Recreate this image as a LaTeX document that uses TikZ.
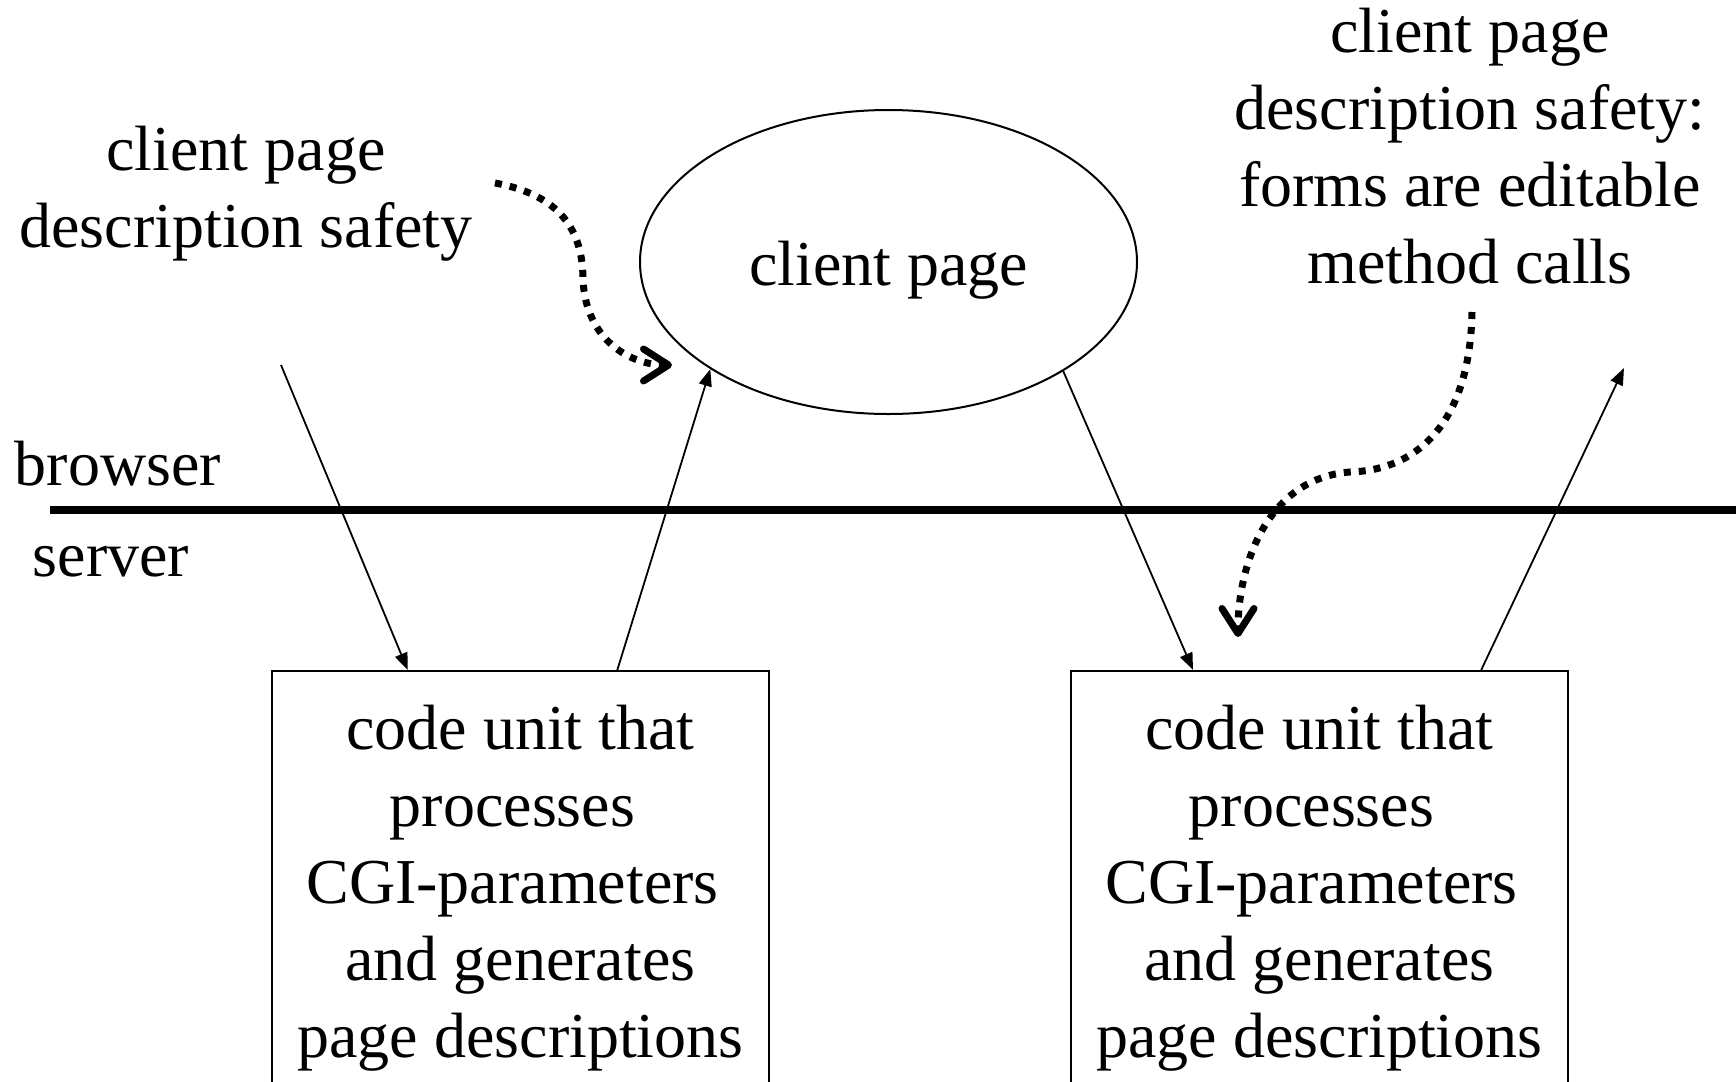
\documentclass[tikz,border=0pt]{standalone}
\usepackage{fontspec}
\setmainfont{Liberation Serif}
\usetikzlibrary{arrows.meta,shapes.geometric,calc}
\begin{document}
\begin{tikzpicture}[x=0.5pt,y=-0.5pt,
  txt/.style={font=\fontsize{32pt}{38.5pt}\selectfont, inner sep=0pt, align=center},
  codebox/.style={txt, draw, line width=1pt, inner xsep=1pt, inner ysep=17pt, minimum width=248.5pt},
  thinarrow/.style={line width=0.9pt, -{Triangle[length=8.5pt,width=6.5pt]}},
  dotarrow/.style={line width=3.5pt, dash pattern=on 3.5pt off 4pt, -{Straight Barb[length=12.5pt,width=16pt,line cap=round,line join=round]}}
]
\useasboundingbox (0,0) rectangle (1736,1082);
\fill[white] (0,0) rectangle (1736,1082);
\clip (0,0) rectangle (1736,1082);

% labels (anchor base = baseline of last line)
\node[txt, anchor=base] (lbl1) at (246,247) {client page\\description safety};
\node[txt, anchor=base] (lbl2) at (1470,283) {client page\\description safety:\\forms are editable\\method calls};
\node[txt, anchor=base] (br) at (118,485) {browser};
\node[txt, anchor=base] (sv) at (111,576) {server};

% client page ellipse
\node[ellipse, draw, line width=1pt, minimum width=248.5pt, minimum height=152pt, inner sep=0pt,
      font=\fontsize{32pt}{38.5pt}\selectfont, text height=28pt, text depth=5pt] (page) at (888.5,262) {client page};

% browser / server line
\coordinate (L0) at (50,510);
\coordinate (L1) at (1736,510);
\draw[line width=3.7pt] (L0) -- (L1);

% code units
\node[codebox, anchor=north] (cu1) at (520.5,670) {code unit that\\processes\rule{0.25em}{0pt}\\CGI-parameters\rule{0.25em}{0pt}\\and generates\\page descriptions};
\node[codebox, anchor=north] (cu2) at (1319.5,670) {code unit that\\processes\rule{0.25em}{0pt}\\CGI-parameters\rule{0.25em}{0pt}\\and generates\\page descriptions};

% thin arrows
\coordinate (a0) at (281,365);
\coordinate (b1) at (1624,368);
\draw[thinarrow] (a0) -- ($(cu1.north west)!0.274!(cu1.north east)$);
\draw[thinarrow] ($(cu1.north west)!0.694!(cu1.north east)$) -- (page.211.9);
\draw[thinarrow] (page.328.5) -- ($(cu2.north west)!0.2465!(cu2.north east)$);
\draw[thinarrow] ($(cu2.north west)!0.824!(cu2.north east)$) -- (b1);

% dotted arrows
\coordinate (d1s) at (495,183);
\coordinate (d1e) at (672,365);
\draw[dotarrow] (d1s) .. controls (560,195) and (583,230) .. (583,280) .. controls (586,340) and (630,365) .. (d1e);
\coordinate (d2s) at (1472,312);
\coordinate (d2e) at (1238,637);
\draw[dotarrow] (d2s) .. controls (1470,420) and (1420,470) .. (1350,472) .. controls (1270,478) and (1238,560) .. (d2e);
\end{tikzpicture}
\end{document}
